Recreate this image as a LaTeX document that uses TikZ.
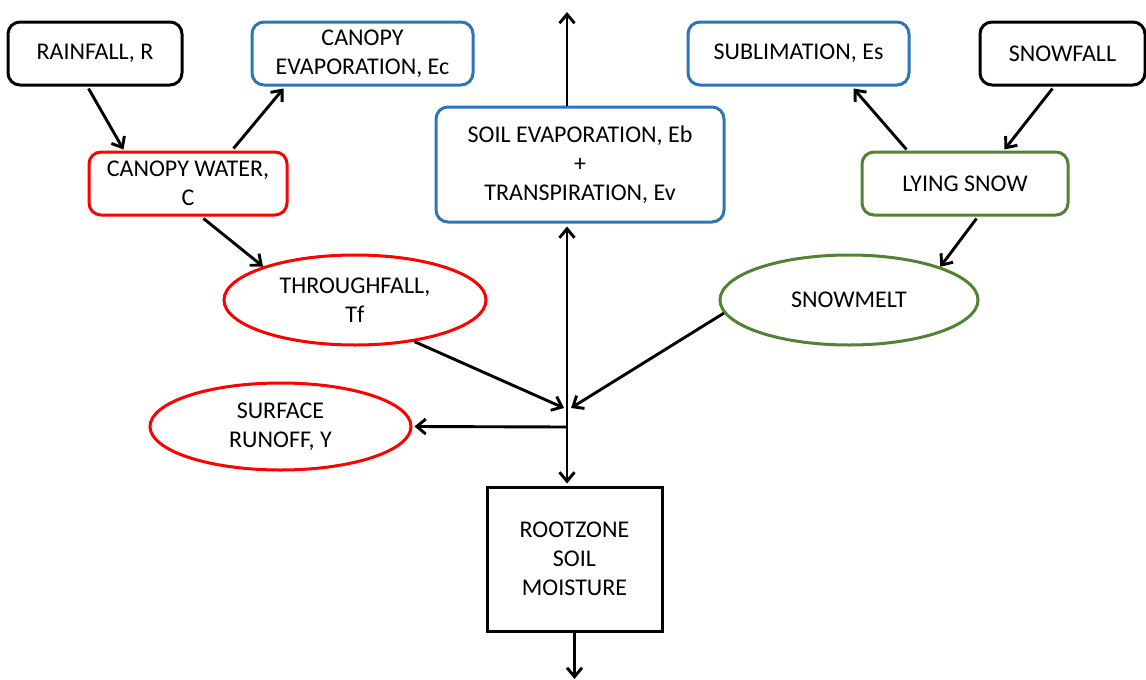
\documentclass[tikz,border=0pt]{standalone}
\usepackage{fontspec}
\setmainfont{Carlito}
\usetikzlibrary{arrows.meta,shapes.geometric}
\definecolor{bblue}{RGB}{46,117,182}
\definecolor{rred}{RGB}{255,0,0}
\definecolor{ggreen}{RGB}{84,130,53}
\definecolor{txt}{RGB}{0,0,0}
\begin{document}
\begin{tikzpicture}[x=1pt,y=-1pt,
  every node/.style={font=\fontsize{24}{29}\selectfont, text=txt, align=center, inner sep=0pt},
  rbox/.style={draw, rounded corners=12pt, line width=3pt},
  blackbox/.style={rbox, draw=black},
  bluebox/.style={rbox, draw=bblue},
  redbox/.style={rbox, draw=rred},
  greenbox/.style={rbox, draw=ggreen},
  ell/.style={ellipse, line width=3pt},
  sqbox/.style={draw=black, line width=3pt},
  arr/.style={line width=2.9pt, -{Straight Barb[length=9pt,width=15pt]}}]
\useasboundingbox (0,0) rectangle (1146,680);
\fill[white] (0,0) rectangle (1146,680);

\node[blackbox, minimum width=174pt, minimum height=63pt] (rain) at (95,53.5) {RAINFALL, R};
\node[bluebox, minimum width=221pt, minimum height=63pt] (cevap) at (362.5,53.5) {CANOPY\\EVAPORATION, Ec};
\node[redbox, minimum width=198pt, minimum height=63pt] (cwater) at (188,183.5) {CANOPY WATER,\\C};
\node[bluebox, minimum width=288pt, minimum height=115pt] (soil) at (580,164.5) {SOIL EVAPORATION, Eb\\+\\TRANSPIRATION, Ev};
\node[bluebox, minimum width=221pt, minimum height=63pt] (subl) at (798.5,53.5) {SUBLIMATION, Es};
\node[blackbox, minimum width=165pt, minimum height=63pt] (snowfall) at (1062.5,53.5) {SNOWFALL};
\node[greenbox, minimum width=206pt, minimum height=63pt] (lying) at (965,183.5) {LYING SNOW};
\node[ell, draw=ggreen, minimum width=258pt, minimum height=90pt] (snowmelt) at (849,300) {SNOWMELT};
\node[ell, draw=rred, minimum width=262pt, minimum height=90pt] (through) at (355,300) {THROUGHFALL,\\Tf};
\node[ell, draw=rred, minimum width=261pt, minimum height=87pt] (runoff) at (280.5,426.5) {SURFACE\\RUNOFF, Y};
\node[sqbox, minimum width=175pt, minimum height=144pt] (root) at (574.5,559) {ROOTZONE\\SOIL\\MOISTURE};

\coordinate (top) at (567,12);
\coordinate (jin) at (567,408);
\coordinate (jout) at (567,427);
\coordinate (bot) at (574.5,679);

\draw[arr] ([xshift=82pt,yshift=-2pt]rain.south west) -- ([xshift=36pt,yshift=1pt]cwater.north west);
\draw[arr] ([xshift=146pt,yshift=2pt]cwater.north west) -- ([xshift=33pt,yshift=-2pt]cevap.south west);
\draw[arr] ([xshift=116pt,yshift=-2pt]cwater.south west) -- (through.160);
\draw[arr] ([xshift=-13pt]soil.north) -- (top);
\draw[arr] (jout) -- ([xshift=-13pt,yshift=-3pt]soil.south);
\draw[arr] (jout) -- ([xshift=-7.5pt,yshift=2pt]root.north);
\draw[arr] (through.-35) -- ([xshift=-3pt]jin);
\draw[arr] (snowmelt.186) -- ([xshift=4pt]jin);
\draw[arr] (jout) -- ([xshift=2pt]runoff.east);
\draw[arr] ([xshift=46pt,yshift=1pt]lying.north west) -- ([xshift=167pt,yshift=-2pt]subl.south west);
\draw[arr] ([xshift=74pt,yshift=-2pt]snowfall.south west) -- ([xshift=144pt,yshift=1pt]lying.north west);
\draw[arr] ([xshift=116pt,yshift=-2pt]lying.south west) -- (snowmelt.20);
\draw[arr] (root.south) -- (bot);
\end{tikzpicture}
\end{document}
